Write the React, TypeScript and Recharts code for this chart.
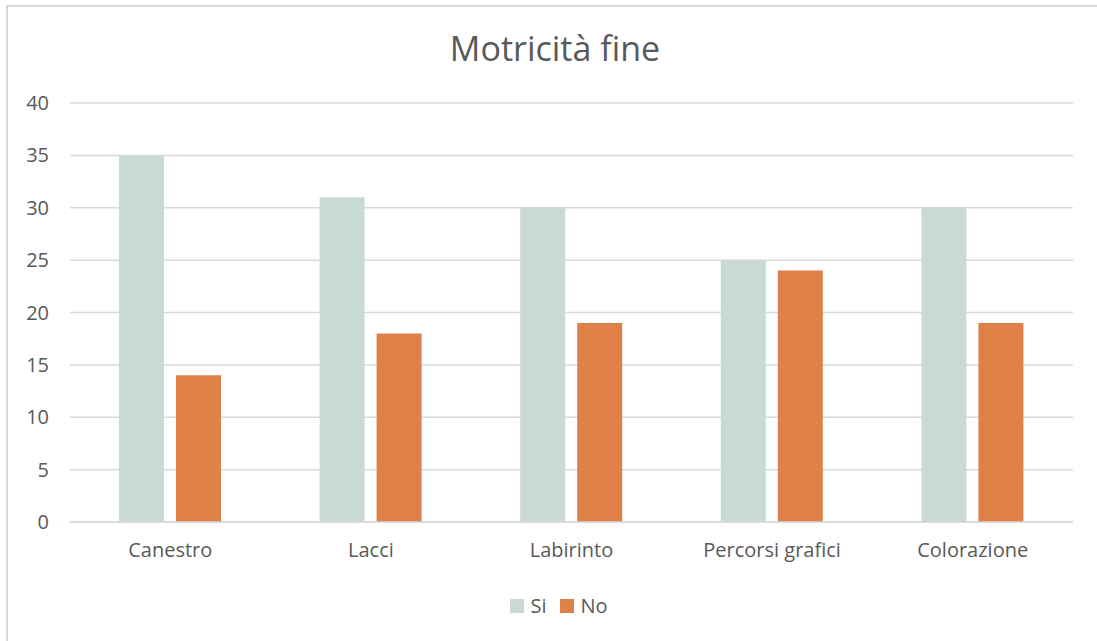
import { Bar, BarChart, CartesianGrid, XAxis, YAxis } from "recharts";

const categorie = ["Canestro", "Lacci", "Labirinto", "Percorsi grafici", "Colorazione"];
const si = [35, 31, 30, 25, 30];
const no = [14, 18, 19, 24, 19];
const yTicks = [0, 5, 10, 15, 20, 25, 30, 35, 40];

const serie = [
  { key: "si", nome: "Si", colore: "#C9DAD6" },
  { key: "no", nome: "No", colore: "#DE8047" },
];

const data = categorie.map((nome, i) => ({ nome, si: si[i], no: no[i] }));

const FONT = "'Open Sans', sans-serif";
const TEXT = "#595959";
const GRID = "#d9d9d9";

export default function App() {
  return (
    <div style={{ position: "absolute", left: 0, top: 0, width: 1097, height: 641, background: "#fff", overflow: "hidden", fontFamily: FONT }}>
      <div style={{ position: "absolute", left: 6, top: 5, width: 1120, height: 660, border: `2px solid ${GRID}` }} />
      <div style={{ position: "absolute", left: 0, top: 25, width: 1110, textAlign: "center", fontSize: 34, color: TEXT }}>
        Motricità fine
      </div>
      <div style={{ position: "absolute", left: 0, top: 0 }}>
        <BarChart
          width={1097}
          height={641}
          data={data}
          margin={{ top: 103, right: 24, bottom: 89, left: 1 }}
          barSize={45}
          barGap={12}
        >
          <CartesianGrid vertical={false} stroke={GRID} strokeWidth={1.5} />
          <XAxis
            dataKey="nome"
            height={30}
            tickLine={false}
            axisLine={{ stroke: GRID, strokeWidth: 1.5 }}
            tickMargin={15}
            tick={{ fontSize: 20, fill: TEXT, fontFamily: FONT }}
          />
          <YAxis
            width={69}
            domain={[0, 40]}
            ticks={yTicks}
            tickLine={false}
            axisLine={false}
            tickMargin={15}
            tick={{ fontSize: 20, fill: TEXT, fontFamily: FONT }}
          />
          {serie.map((s) => (
            <Bar key={s.key} dataKey={s.key} name={s.nome} fill={s.colore} isAnimationActive={false} />
          ))}
        </BarChart>
      </div>
      <div
        style={{
          position: "absolute",
          left: 0,
          top: 592,
          width: 1118,
          display: "flex",
          justifyContent: "center",
          gap: 14,
          fontSize: 20,
          color: TEXT,
          lineHeight: "28px",
        }}
      >
        {serie.map((s) => (
          <div key={s.key} style={{ display: "flex", alignItems: "center", gap: 6 }}>
            <span style={{ width: 14, height: 14, background: s.colore, display: "inline-block" }} />
            <span>{s.nome}</span>
          </div>
        ))}
      </div>
    </div>
  );
}
